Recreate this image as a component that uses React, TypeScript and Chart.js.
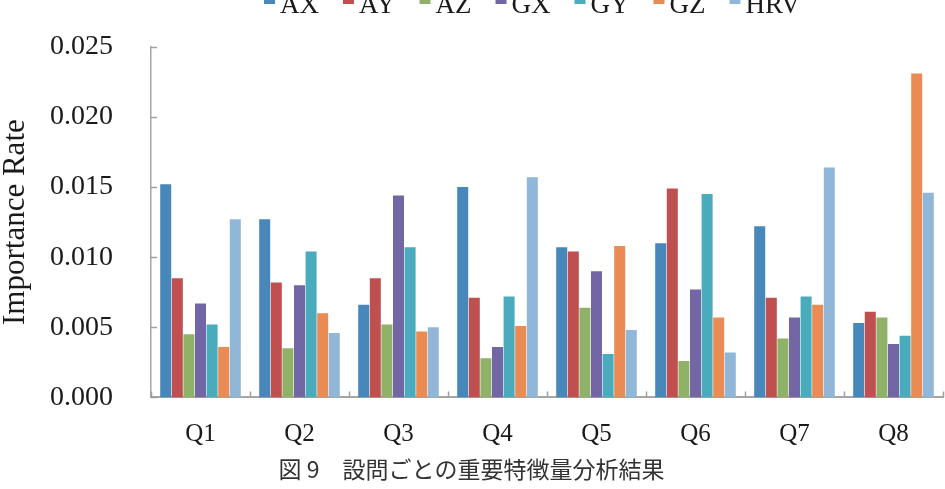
import { useEffect, useRef } from "react";
import { Chart, registerables } from "chart.js";

Chart.register(...registerables);

const categories = ["Q1", "Q2", "Q3", "Q4", "Q5", "Q6", "Q7", "Q8"];
const seriesNames = ["AX", "AY", "AZ", "GX", "GY", "GZ", "HRV"];
const AX = [0.0152, 0.0127, 0.0066, 0.0150, 0.0107, 0.0110, 0.0122, 0.0053];
const AY = [0.0085, 0.0082, 0.0085, 0.0071, 0.0104, 0.0149, 0.0071, 0.0061];
const AZ = [0.0045, 0.0035, 0.0052, 0.0028, 0.0064, 0.0026, 0.0042, 0.0057];
const GX = [0.0067, 0.0080, 0.0144, 0.0036, 0.0090, 0.0077, 0.0057, 0.0038];
const GY = [0.0052, 0.0104, 0.0107, 0.0072, 0.0031, 0.0145, 0.0072, 0.0044];
const GZ = [0.0036, 0.0060, 0.0047, 0.0051, 0.0108, 0.0057, 0.0066, 0.0231];
const HRV = [0.0127, 0.0046, 0.0050, 0.0157, 0.0048, 0.0032, 0.0164, 0.0146];
const seriesValues = [AX, AY, AZ, GX, GY, GZ, HRV];
const seriesColors = ["#4887ba", "#c0504f", "#8fb268", "#7266a4", "#4aabbd", "#e98b52", "#90b6d8"];
const yTickLabels = ["0.000", "0.005", "0.010", "0.015", "0.020", "0.025"];
const yAxisTitle = "Importance Rate";
const caption = "図 9　設問ごとの重要特徴量分析結果";

const SERIF = '"Liberation Serif", "DejaVu Serif", serif';

const decorPlugin = {
  id: "decor",
  afterDatasetsDraw(chart: any) {
    const { ctx, chartArea, scales } = chart;
    const xs = scales.x;
    const ys = scales.y;
    ctx.save();
    ctx.strokeStyle = "#a0a0a0";
    ctx.lineWidth = 1.5;
    ctx.beginPath();
    ys.ticks.forEach((t: any) => {
      const y = Math.round(ys.getPixelForValue(t.value)) + 0.5;
      ctx.moveTo(chartArea.left, y);
      ctx.lineTo(chartArea.left + 6, y);
    });
    for (let i = 0; i <= categories.length; i++) {
      const x = Math.round(xs.getPixelForValue(i - 0.5)) + 0.5;
      ctx.moveTo(x, chartArea.bottom);
      ctx.lineTo(x, chartArea.bottom - 6);
    }
    ctx.stroke();
    ctx.restore();
  },
  afterDraw(chart: any) {
    const { ctx } = chart;
    ctx.save();
    ctx.font = `27px ${SERIF}`;
    ctx.textBaseline = "alphabetic";
    ctx.textAlign = "left";
    let x = 264;
    chart.data.datasets.forEach((ds: any) => {
      ctx.fillStyle = ds.backgroundColor;
      ctx.fillRect(x, -3, 11, 7);
      ctx.fillStyle = "#1a1a1a";
      ctx.fillText(ds.label, x + 16, 12.5);
      x += 16 + ctx.measureText(ds.label).width + 24;
    });
    ctx.restore();
  },
};

export default function App() {
  const ref = useRef<HTMLCanvasElement | null>(null);
  useEffect(() => {
    if (!ref.current) return;
    const chart = new Chart(ref.current, {
      type: "bar",
      data: {
        labels: categories,
        datasets: seriesNames.map((name, i) => ({
          label: name,
          data: seriesValues[i],
          backgroundColor: seriesColors[i],
          borderWidth: 0,
          categoryPercentage: 0.82,
          barPercentage: 0.95,
        })),
      },
      options: {
        responsive: false,
        animation: false,
        devicePixelRatio: 1,
        layout: { padding: { top: 43, right: 2, left: 0, bottom: 6 } },
        plugins: {
          legend: { display: false },
          tooltip: { enabled: false },
          title: {
            display: true,
            position: "bottom",
            text: caption,
            padding: 0,
            color: "#333",
            font: { family: '"Noto Sans CJK JP"', size: 23, weight: "normal", lineHeight: 1.2 },
          },
        },
        scales: {
          x: {
            grid: { display: false },
            border: { display: true, color: "#a6a6a6", width: 2 },
            ticks: { color: "#1a1a1a", padding: 14, font: { family: SERIF, size: 25 } },
            afterFit: (s: any) => {
              s.height = 58;
            },
          },
          y: {
            min: 0,
            max: 0.025,
            grid: { display: false },
            border: { display: true, color: "#a6a6a6", width: 1.5 },
            ticks: {
              stepSize: 0.005,
              padding: 30,
              color: "#1a1a1a",
              font: { family: SERIF, size: 28 },
              callback: (_v: any, idx: number) => yTickLabels[idx],
            },
            title: {
              display: true,
              text: yAxisTitle,
              color: "#1a1a1a",
              padding: 0,
              font: { family: SERIF, size: 31, lineHeight: 1 },
            },
            afterFit: (s: any) => {
              s.width = 151;
            },
          },
        },
      },
      plugins: [decorPlugin],
    });
    return () => chart.destroy();
  }, []);
  return (
    <div style={{ position: "absolute", left: 0, top: 0, width: 945, height: 489, background: "#fff" }}>
      <canvas ref={ref} width={945} height={489} />
    </div>
  );
}
